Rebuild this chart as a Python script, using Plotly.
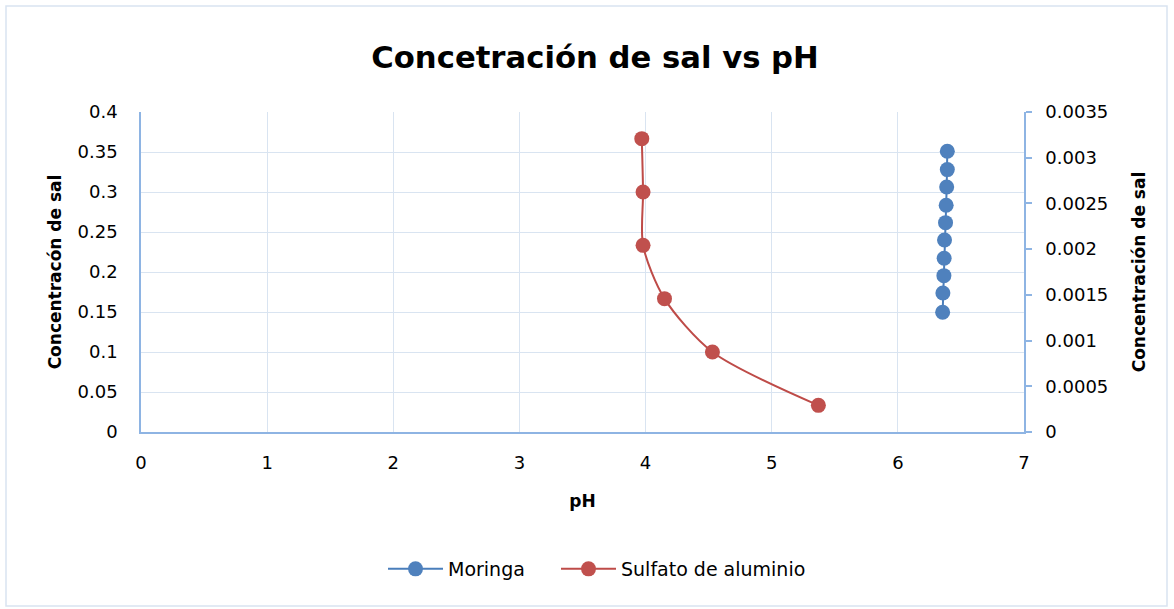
import plotly.graph_objects as go

# Data
moringa_ph = [6.392, 6.392, 6.387, 6.383, 6.378, 6.370, 6.367, 6.365, 6.357, 6.355]
moringa_conc = [0.00307, 0.00287, 0.00268, 0.00248, 0.00229, 0.00210, 0.00190, 0.00171, 0.00152, 0.00131]

sulfato_ph = [3.97, 3.98, 3.98, 4.15, 4.53, 5.37]
sulfato_conc = [0.3667, 0.3, 0.2333, 0.1667, 0.1, 0.0333]

x_ticks = [0, 1, 2, 3, 4, 5, 6, 7]
y_ticks = [0, 0.05, 0.1, 0.15, 0.2, 0.25, 0.3, 0.35, 0.4]
y_tick_text = ["0", "0.05", "0.1", "0.15", "0.2", "0.25", "0.3", "0.35", "0.4"]
y2_ticks = [0, 0.0005, 0.001, 0.0015, 0.002, 0.0025, 0.003, 0.0035]
y2_tick_text = ["0", "0.0005", "0.001", "0.0015", "0.002", "0.0025", "0.003", "0.0035"]

FONT = "DejaVu Sans"
AXIS_COLOR = "#8EB4E3"
GRID_COLOR = "#D9E4F1"

W, H = 1174, 609
L, R, T, B = 141, 1024, 112, 432
pw, ph = R - L, B - T

def px_x(p):
    return (p - L) / pw

def px_y(p):
    return (B - p) / ph

fig = go.Figure()

fig.add_trace(go.Scatter(
    x=moringa_ph, y=moringa_conc, name="Moringa", yaxis="y2", legend="legend",
    mode="lines+markers",
    line=dict(color="#4A7EBB", width=2),
    marker=dict(color="#4F81BD", size=15, line=dict(width=0)),
))

fig.add_trace(go.Scatter(
    x=sulfato_ph, y=sulfato_conc, name="Sulfato de aluminio", yaxis="y", legend="legend2",
    mode="lines+markers",
    line=dict(color="#BE4B48", width=2, shape="spline", smoothing=0.8),
    marker=dict(color="#C0504D", size=15, line=dict(width=0)),
))

legend_common = dict(orientation="h", yanchor="middle", y=px_y(569), xanchor="left",
                     font=dict(size=19), bgcolor="rgba(0,0,0,0)", itemwidth=55)

fig.update_layout(
    width=W, height=H,
    margin=dict(l=L, r=W - R, t=T, b=H - B),
    paper_bgcolor="white", plot_bgcolor="white",
    font=dict(family=FONT, color="#000000", size=18),
    title=dict(text="<b>Concetración de sal vs pH</b>", x=595 / W, xanchor="center",
               y=1 - 57 / H, yanchor="middle", font=dict(size=30.7, family=FONT)),
    xaxis=dict(range=[0, 7], tickvals=x_ticks, showgrid=True, gridcolor=GRID_COLOR,
               gridwidth=1.3, showline=True, linecolor=AXIS_COLOR, linewidth=1.5,
               zeroline=False, ticks="", ticklabelstandoff=14,
               tickfont=dict(size=18),
               title=dict(text="<b>pH</b>", font=dict(size=17), standoff=23)),
    yaxis=dict(range=[0, 0.4], tickvals=y_ticks, ticktext=y_tick_text, showgrid=True,
               gridcolor=GRID_COLOR, gridwidth=1.3, showline=True, linecolor=AXIS_COLOR,
               linewidth=1.5, zeroline=False, ticks="", ticklabelstandoff=18,
               tickfont=dict(size=18),
               title=dict(text="<b>Concentracón de sal</b>", font=dict(size=17), standoff=12)),
    yaxis2=dict(range=[0, 0.0035], tickvals=y2_ticks, ticktext=y2_tick_text,
                overlaying="y", side="right", showgrid=False, showline=True,
                linecolor=AXIS_COLOR, linewidth=1.5, zeroline=False,
                ticks="outside", ticklen=6, tickcolor=AXIS_COLOR, tickwidth=1.5,
                ticklabelstandoff=10, tickfont=dict(size=18),
                title=dict(text="<b>Concentración de sal</b>", font=dict(size=17), standoff=26)),
    legend=dict(legend_common, x=px_x(383)),
    legend2=dict(legend_common, x=px_x(556)),
    showlegend=True,
    hovermode=False,
    shapes=[dict(type="rect", xref="paper", yref="paper",
                 x0=px_x(6), x1=px_x(1167), y0=px_y(606), y1=px_y(6),
                 line=dict(color="#D9E4F1", width=1.5), fillcolor="rgba(0,0,0,0)",
                 layer="below")],
)

fig.write_html("out.html", config={"displayModeBar": False},
               post_script="document.body.style.margin='0px';")
